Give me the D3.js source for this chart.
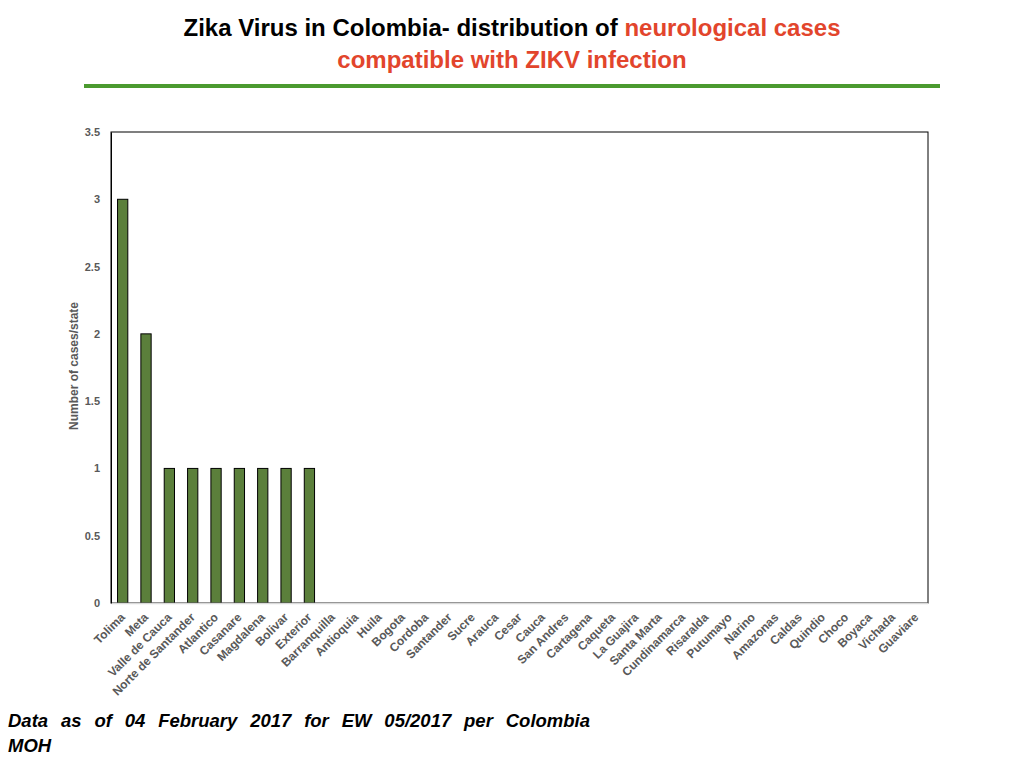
<!DOCTYPE html>
<html><head><meta charset="utf-8">
<script src="https://cdn.jsdelivr.net/npm/d3@7"></script>
<style>
body{margin:0;background:#fff;}
svg{display:block;font-family:"Liberation Sans",Arial,Helvetica,sans-serif;}
</style></head>
<body><svg id="c" width="1024" height="768"></svg>
<script>
const states = ["Tolima","Meta","Valle de Cauca","Norte de Santander","Atlantico","Casanare","Magdalena","Bolivar","Exterior","Barranquilla","Antioquia","Huila","Bogota","Cordoba","Santander","Sucre","Arauca","Cesar","Cauca","San Andres","Cartagena","Caqueta","La Guajira","Santa Marta","Cundinamarca","Risaralda","Putumayo","Narino","Amazonas","Caldas","Quindio","Choco","Boyaca","Vichada","Guaviare"];
const cases = [3,2,1,1,1,1,1,1,1,0,0,0,0,0,0,0,0,0,0,0,0,0,0,0,0,0,0,0,0,0,0,0,0,0,0];
const yTicks = [0,0.5,1,1.5,2,2.5,3,3.5];

const svg = d3.select("#c");
const L=111,R=928,T=132,B=603;
const x = d3.scaleBand().domain(states).range([L,R]).paddingInner(0.56).paddingOuter(0.28);
const y = d3.scaleLinear().domain([0,3.5]).range([B,T]);

// title
const t1 = svg.append("text").attr("x",512).attr("y",36).attr("text-anchor","middle")
  .attr("font-size",24).attr("font-weight","bold");
t1.append("tspan").attr("fill","#000").text("Zika Virus in Colombia\u2010  distribution of ");
t1.append("tspan").attr("fill","#e2452c").text("neurological cases");
svg.append("text").attr("x",512).attr("y",68).attr("text-anchor","middle")
  .attr("font-size",24).attr("font-weight","bold").attr("fill","#e2452c")
  .text("compatible with ZIKV infection");
svg.append("rect").attr("x",84).attr("y",84).attr("width",856).attr("height",4).attr("fill","#4b9a2f");

// frame
svg.append("rect").attr("x",L).attr("y",T).attr("width",R-L).attr("height",B-T)
  .attr("fill","none").attr("stroke","#000").attr("stroke-width",1);

// bars
svg.append("g").selectAll("rect").data(states).join("rect")
  .attr("x",d=>x(d)).attr("width",x.bandwidth())
  .attr("y",(d,i)=>y(cases[i])).attr("height",(d,i)=>B-y(cases[i]))
  .attr("fill",(d,i)=>cases[i]>0?"#5b7f3b":"none")
  .attr("stroke",(d,i)=>cases[i]>0?"#000":"none").attr("stroke-width",1);

// x axis line
svg.append("line").attr("x1",L).attr("x2",R).attr("y1",B+0.5).attr("y2",B+0.5)
  .attr("stroke","#d9d9d9").attr("stroke-width",1.5);

// y axis
const ya = svg.append("g").attr("transform",`translate(${L},0)`)
  .call(d3.axisLeft(y).tickValues(yTicks).tickSize(0).tickPadding(11).tickFormat(d=>String(d)));
ya.select(".domain").attr("stroke","#000");
ya.selectAll("text").attr("font-size",11).attr("font-weight","bold").attr("fill","#595959")
  .attr("font-family","Liberation Sans,Arial,sans-serif");

// x labels
svg.append("g").selectAll("text").data(states).join("text")
  .attr("transform",d=>`translate(${x(d)+x.bandwidth()/2+3},${B+15}) rotate(-45)`)
  .attr("text-anchor","end").attr("font-size",12).attr("font-weight","bold").attr("fill","#595959")
  .text(d=>d);

// y title
svg.append("text").attr("transform",`translate(78,${366}) rotate(-90)`)
  .attr("text-anchor","middle").attr("font-size",12).attr("font-weight","bold").attr("fill","#595959")
  .text("Number of cases/state");

// footnote (justified line)
const fnWords = "Data as of 04 February 2017 for EW 05/2017 per Colombia".split(" ");
const fnG = svg.append("g").attr("font-size",18.5).attr("font-weight","bold").attr("font-style","italic");
const wEls = fnWords.map(w => fnG.append("text").attr("y",727).text(w));
const widths = wEls.map(e => e.node().getComputedTextLength());
const total = d3.sum(widths);
const gap = (582 - total) / (fnWords.length - 1);
let cx = 8;
wEls.forEach((e,i) => { e.attr("x", cx); cx += widths[i] + gap; });
fnG.append("text").attr("x",8).attr("y",752).text("MOH");
</script></body></html>
